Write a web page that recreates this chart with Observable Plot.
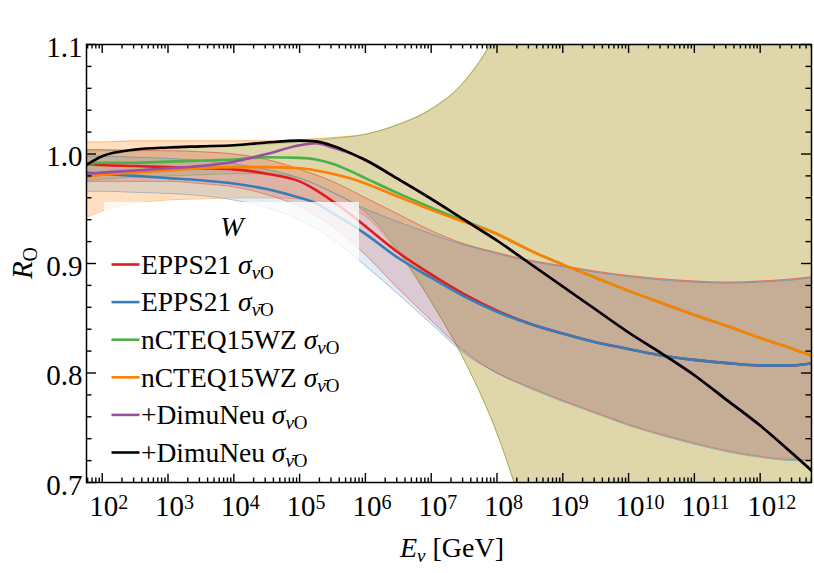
<!DOCTYPE html>
<html><head><meta charset="utf-8">
<script src="https://cdn.jsdelivr.net/npm/d3@7"></script>
<script src="https://cdn.jsdelivr.net/npm/@observablehq/plot@0.6"></script>
<style>
html,body{margin:0;padding:0;background:#fff;}
#chart svg{display:block;}
</style></head><body><div id="chart"></div>
<script>
// ---------- data (log10 of E_nu in GeV) ----------
const bandLogE = [1.76, 2, 2.5, 3, 3.5, 4, 4.5, 5, 5.5, 6, 6.5, 7, 7.5, 8, 8.5, 9, 9.5, 10, 10.5, 11, 11.5, 12, 12.5, 12.78];
const orangeBandLo = [0.942,0.948,0.955,0.958,0.959,0.960,0.960,0.959,0.955,0.943,0.910,0.865,0.812,0.745,0.655,0.560,0.470,0.380,0.290,0.200,0.110,0.020,-0.070,-0.120];
const orangeBandHi = [1.011,1.011,1.012,1.012,1.012,1.012,1.012,1.013,1.015,1.018,1.027,1.041,1.066,1.113,1.200,1.300,1.400,1.500,1.600,1.700,1.800,1.900,2.000,2.050];
const greenBandLo  = [0.976,0.977,0.979,0.980,0.981,0.982,0.982,0.978,0.965,0.947,0.912,0.865,0.812,0.745,0.655,0.560,0.470,0.380,0.290,0.200,0.110,0.020,-0.070,-0.120];
const greenBandHi  = [1.003,1.003,1.004,1.005,1.006,1.007,1.009,1.011,1.014,1.018,1.027,1.041,1.066,1.113,1.200,1.300,1.400,1.500,1.600,1.700,1.800,1.900,2.000,2.050];
const redBandHi  = [1.004,1.004,1.003,1.003,1.002,1.000,0.995,0.986,0.975,0.960,0.945,0.930,0.918,0.910,0.903,0.898,0.893,0.889,0.886,0.884,0.883,0.884,0.886,0.888];
const redBandLo  = [0.975,0.975,0.975,0.975,0.973,0.970,0.963,0.952,0.934,0.908,0.877,0.848,0.820,0.800,0.787,0.775,0.764,0.753,0.744,0.736,0.729,0.724,0.721,0.721];
const blueBandHi = [0.998,0.998,0.997,0.996,0.994,0.991,0.986,0.978,0.965,0.950,0.938,0.927,0.917,0.909,0.902,0.897,0.892,0.888,0.885,0.883,0.882,0.883,0.885,0.887];
const blueBandLo = [0.966,0.966,0.965,0.964,0.962,0.958,0.951,0.940,0.922,0.898,0.872,0.845,0.818,0.800,0.786,0.774,0.763,0.752,0.743,0.735,0.728,0.723,0.720,0.720];

const lineLogE = [1.76, 2, 2.5, 3, 3.5, 4, 4.5, 5, 5.25, 5.5, 5.75, 6, 6.5, 7, 7.5, 8, 8.5, 9, 9.5, 10, 10.5, 11, 11.5, 12, 12.5, 12.78];
const eppsNu     = [0.991,0.990,0.989,0.988,0.987,0.986,0.982,0.975,0.967,0.957,0.946,0.934,0.910,0.890,0.872,0.857,0.845,0.836,0.828,0.822,0.816,0.812,0.809,0.807,0.807,0.809];
const eppsNuBar  = [0.983,0.982,0.980,0.978,0.976,0.973,0.968,0.960,0.955,0.946,0.937,0.927,0.905,0.887,0.870,0.856,0.845,0.836,0.828,0.822,0.816,0.812,0.809,0.807,0.807,0.809];
const ncteqNu    = [0.991,0.992,0.992,0.993,0.994,0.995,0.997,0.9965,0.995,0.991,0.985,0.978,0.964,0.951,0.939,0.927,0.912,0.899,0.887,0.875,0.864,0.853,0.843,0.832,0.822,0.816];
const ncteqNuBar = [0.979,0.981,0.983,0.985,0.987,0.988,0.988,0.987,0.985,0.982,0.978,0.973,0.961,0.949,0.938,0.927,0.912,0.899,0.887,0.875,0.864,0.853,0.843,0.832,0.822,0.816];
const dimuNu     = [0.982,0.983,0.985,0.987,0.989,0.993,1.000,1.008,1.0098,1.0060,1.0010,0.9945,0.977,0.959,0.940,0.921,0.900,0.879,0.858,0.837,0.818,0.798,0.775,0.752,0.726,0.711];
const dimuNuBar  = [0.990,0.998,1.004,1.006,1.007,1.008,1.0105,1.0122,1.0115,1.0075,1.0015,0.9945,0.977,0.959,0.940,0.921,0.900,0.879,0.858,0.837,0.818,0.798,0.775,0.752,0.726,0.711];

const seriesColors = ["#e41a1c","#377eb8","#4daf4a","#ff7f00","#984ea3","#000000"];
const legendNames = ["EPPS21","EPPS21","nCTEQ15WZ","nCTEQ15WZ","+DimuNeu","+DimuNeu"];
const legendBar = [false,true,false,true,false,true];
const legendTitle = "W";

const xMajorExp = [2,3,4,5,6,7,8,9,10,11,12];
const yMajor = [0.7,0.8,0.9,1.0,1.1];
const yMinor = [0.72,0.74,0.76,0.78,0.82,0.84,0.86,0.88,0.92,0.94,0.96,0.98,1.02,1.04,1.06,1.08];
const xDomain = [57.7, 6.03e12];
const yDomain = [0.7, 1.1];

// ---------- build ----------
const FONT = "'Liberation Serif', 'DejaVu Serif', serif";
const W = 814, H = 573, ML = 86, MR = 3, MT = 44, MB = 91;
const ypx = (yDomain[1] - yDomain[0]) / (H - MT - MB);
const xpx = Math.log10(xDomain[1] / xDomain[0]) / (W - ML - MR);
const bandRows = (lo, hi) => bandLogE.map((l,i)=>({E: 10**l, lo: lo[i], hi: hi[i]}));
const lineRows = (v) => lineLogE.map((l,i)=>({E: 10**l, v: v[i]}));
const curve = "monotone-x";

function bandMarks(lo, hi, color, alpha) {
  const rows = bandRows(lo, hi);
  return [
    Plot.areaY(rows, {x:"E", y1:"lo", y2:"hi", fill: color, fillOpacity: alpha, curve, clip: true}),
    Plot.lineY(rows, {x:"E", y:"lo", stroke: color, strokeOpacity: 0.55, strokeWidth: 0.8, curve, clip: true}),
    Plot.lineY(rows, {x:"E", y:"hi", stroke: color, strokeOpacity: 0.55, strokeWidth: 0.8, curve, clip: true})
  ];
}
const seriesVals = [eppsNu, eppsNuBar, ncteqNu, ncteqNuBar, dimuNu, dimuNuBar];
const lineMarks = seriesVals.map((v,i)=>Plot.lineY(lineRows(v), {x:"E", y:"v", stroke: seriesColors[i], strokeWidth: 2.6, curve, clip: true}));

const xMajor = xMajorExp.map(e => 10**e);
const xMinor = [];
for (let n = 1; n <= 12; n++) for (let k = 2; k <= 9; k++) { const v = k * 10**n; if (v > xDomain[0] && v < xDomain[1]) xMinor.push(v); }

const tk = {stroke: "black", strokeWidth: 1.4};
const xTicks = (vals, len) => [
  Plot.ruleX(vals, {x: d=>d, y1: yDomain[0], y2: yDomain[0] + len*ypx, ...tk}),
  Plot.ruleX(vals, {x: d=>d, y1: yDomain[1], y2: yDomain[1] - len*ypx, ...tk})
];
const yTicks = (vals, len) => [
  Plot.ruleY(vals, {y: d=>d, x1: xDomain[0], x2: xDomain[0] * 10**(len*xpx), ...tk}),
  Plot.ruleY(vals, {y: d=>d, x1: xDomain[1], x2: xDomain[1] / 10**(len*xpx), ...tk})
];

const plot = Plot.plot({
  width: W, height: H,
  marginLeft: ML, marginRight: MR, marginTop: MT, marginBottom: MB,
  x: {type: "log", domain: xDomain, axis: null},
  y: {domain: yDomain, axis: null},
  style: {fontFamily: FONT, background: "white", color: "black"},
  marks: [
    ...bandMarks(orangeBandLo, orangeBandHi, "#ff7f00", 0.25),
    ...bandMarks(greenBandLo, greenBandHi, "#4daf4a", 0.18),
    ...bandMarks(redBandLo, redBandHi, "#e41a1c", 0.17),
    ...bandMarks(blueBandLo, blueBandHi, "#377eb8", 0.15),
    ...lineMarks,
    ...xTicks(xMajor, 9), ...xTicks(xMinor, 4.5),
    ...yTicks(yMajor, 10), ...yTicks(yMinor, 5.5),
    Plot.frame({stroke: "black", strokeWidth: 1.5}),
    Plot.text(yMajor, {y: d=>d, frameAnchor: "left", text: d=>d.toFixed(1), textAnchor: "end", dx: -4, dy: 3, fontSize: 29}),
    Plot.text(xMajor, {x: d=>d, frameAnchor: "bottom", text: ()=>"10", textAnchor: "start", dx: -13, dy: 33, fontSize: 29}),
    Plot.text(xMajor, {x: d=>d, frameAnchor: "bottom", text: d=>String(Math.round(Math.log10(d))), textAnchor: "start", dx: 16, dy: 26, fontSize: 20})
  ]
});
document.getElementById("chart").appendChild(plot);

const svg = d3.select(plot);
// axis titles
const yl = svg.append("text").attr("transform","translate(32,263) rotate(-90)").attr("text-anchor","middle")
  .attr("font-family", FONT).attr("font-size", 29);
yl.append("tspan").attr("font-style","italic").text("R");
yl.append("tspan").attr("font-size", 20).attr("dy", 5).text("O");

const xl = svg.append("text").attr("x", 452).attr("y", 557).attr("text-anchor","middle")
  .attr("font-family", FONT).attr("font-size", 28);
xl.append("tspan").attr("font-style","italic").text("E");
xl.append("tspan").attr("font-style","italic").attr("font-size", 19).attr("dy", 5).text("ν");
xl.append("tspan").attr("dy", -5).text(" [GeV]");

// legend
const lg = svg.append("g").attr("font-family", FONT).attr("text-anchor","start");
lg.append("rect").attr("x",104).attr("y",202).attr("width",255).attr("height",272).attr("fill","white").attr("fill-opacity",0.78);
lg.append("text").attr("x",232).attr("y",236).attr("text-anchor","middle").attr("font-style","italic").attr("font-size",28).text(legendTitle);
legendNames.forEach((name,i)=>{
  const cy = 264.5 + 37.6*i;
  lg.append("line").attr("x1",111.5).attr("x2",139.5).attr("y1",cy).attr("y2",cy).attr("stroke",seriesColors[i]).attr("stroke-width",2.6);
  const t = lg.append("text").attr("x",141).attr("y",cy+9.2).attr("font-size",27.5).attr("text-anchor","start");
  t.append("tspan").text(name + " ");
  t.append("tspan").attr("font-style","italic").text("σ");
  t.append("tspan").attr("font-style","italic").attr("font-size",19).attr("dy",5).text(legendBar[i] ? "ν\u0304" : "ν");
  t.append("tspan").attr("font-size",19).text("O");
});
</script></body></html>
